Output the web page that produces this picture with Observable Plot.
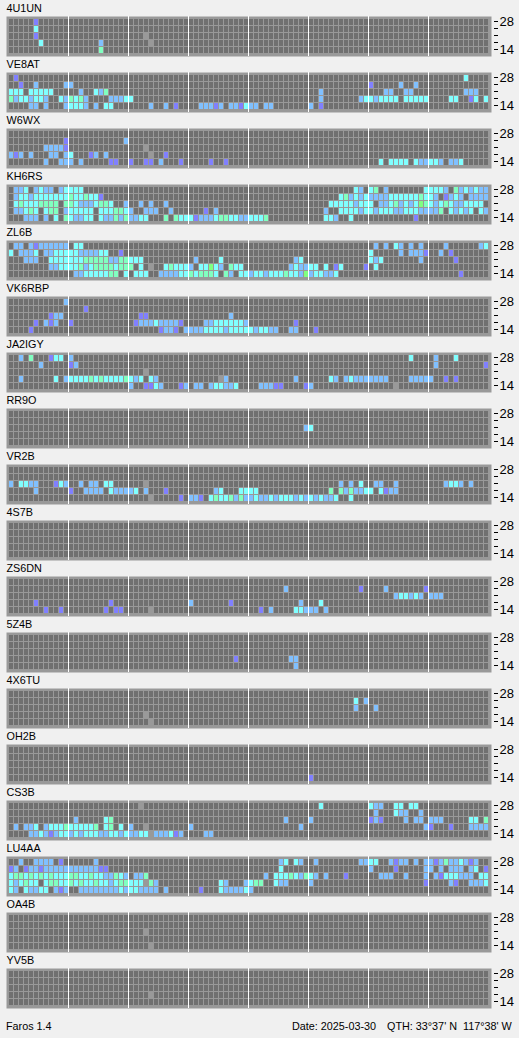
<!DOCTYPE html>
<html>
<head>
<meta charset="utf-8">
<script src="https://cdn.jsdelivr.net/npm/d3@7"></script>
<script src="https://cdn.jsdelivr.net/npm/@observablehq/plot@0.6"></script>
<style>
html,body{margin:0;padding:0;background:#f0f0f0;overflow:hidden}
svg{display:block}
#foot{position:relative;height:26px;font:10.8px "Liberation Sans",sans-serif;color:#000}
#foot span{position:absolute;top:7px;white-space:pre;line-height:14px}
</style>
</head>
<body>
<div id="chart"></div>
<div id="foot">
<span style="left:6px">Faros 1.4</span>
<span style="left:292px">Date: 2025-03-30</span>
<span style="left:387px">QTH: 33°37' N</span>
<span style="left:463px">117°38' W</span>
</div>
<script>
// Beacons, top to bottom
const stations = ["4U1UN","VE8AT","W6WX","KH6RS","ZL6B","VK6RBP","JA2IGY","RR9O","VR2B","4S7B","ZS6DN","5Z4B","4X6TU","OH2B","CS3B","LU4AA","OA4B","YV5B"];
// Bands, top row to bottom row
const bands = ["28","24","21","18","14"];
const bandLabels = ["28","14"];
// 96 quarter-hour slots; white divider after every 12th slot
const slots = d3.range(96);
const dividers = [11,23,35,47,59,71,83];
// Level: 0 noise (grey), 1 weak ... 5 strong
const levelColors = ["#999999","#8080ff","#80c0ff","#80ffff","#80ffc0","#80ff80"];
// Each row (band): "startSlot:levels" runs, one digit per slot
const s4U1UN = ["5:1","5:3","5:1 27:0","6:3 18:2 28:0","18:4"];
const sVE8AT = ["1:1 91:3","2:1 5:2 11:22 72:1 78:2 81:2","0:333 4:33333 14:2 17:324 62:2 75:22 79:22 91:222","0:42332332 10:324342 20:222 23:33 62:2 70:233 73:2 74:3333 79:33333 88:33 92:13 95:3","4:22 7:2 11:23332 17:2 19:33 28:2 31:2 33:1 38:22212 44:22 46:13 48:22 51:22 60:2 62:1"];
const sW6WX = ["","11:1 23:2","7:2222 11:1 27:0","0:212 4:2 8:22 11:23 16:12 19:2 28:0 31:1","7:2 10:222 14:2 20:11 24:1 27:11 30:2 34:1 40:1 43:1 74:3 76:3333 81:3 82:22 84:33 86:2 88:22 90:3"];
const sKH6RS = ["1:223 5:2322 10:23333 69:32 72:34 75:2 83:33332 89:4232322",
"1:233233333334334331 66:3423232222 76:333333 82:4 83:332 87:1 88:232 92:2222",
"1:343334444 11:443 14:222 17:3 18:44 20:3 23:2 26:2 28:2 31:2 64:333332333 74:223423235432343223333",
"1:22343 7:344 11:233333 18:3334432 27:222 32:2 39:1 41:2 63:2 66:333323323332233322224 88:32323 94:32",
"3:222 7:2 9:3 11:4 12:32233 18:3224242233 31:4 33:433 36:312223443322333 51:4 63:332 68:3 81:1"];
const sZL6B = ["1:22 4:21222222 13:33 73:2 75:2 77:32 80:2 82:2 87:2 94:23",
"0:3 2:2223 7:2233333222233 22:1 72:3 78:2 80:222 83:1 86:2 88:1",
"3:222 8:3333333 15:44444 20:22 22:44 24:333 37:2 42:3 57:23 72:323 82:2 89:1",
"8:22 10:33334 15:2344443444 26:3 28:0 31:343332 38:33532 44:433 56:232233 63:3 65:1 66:3 71:1 73:3",
"13:22 15:33333 20:44 23:3 25:333 30:2222 34:33 36:4 37:3 38:444 41:3 43:42 46:33 48:23 50:3233343325233223 90:1"];
const sVK6RBP = ["11:2","15:1","8:122 26:11 44:2","5:1 7:212 12:1 25:1 26:222 29:3 30:2222 34:1 39:22 41:333333 47:2 57:1","4:1 30:1 31:22 33:1 35:2222 39:3333 43:2 44:33333 49:2 50:33 52:22 56:22 61:1"];
const sJA2IGY = ["2:2 4:4 8:133 12:2 80:3 85:2 89:3","6:2 12:12 85:2 95:1","27:0","2:2 9:3 11:2 12:3333 16:4 17:3 18:4 19:3333 23:4 24:3 25:2 26:3 28:32 42:0 43:2 57:2 64:32 67:23 69:2222222 80:22222 87:1 89:1","24:2 27:11 29:32 34:12 37:22 40:233223 50:222 53:11 59:12 77:0"];
const sRR9O = ["","","59:23","",""];
const sVR2B = ["","","0:2 2:33 4:22 9:132 14:2 16:22 19:33 27:0 66:2 68:2 70:3 73:22 77:2 87:2 88:33 90:2 92:2","5:2 12:1 15:2222 20:3 21:2222 25:3 27:2 31:1 41:23 46:3333 64:4 66:42 68:4 69:22 71:33 74:31 76:22","28:0 34:1 36:22 38:1 40:34 42:33 44:4 45:2 46:4 47:22 49:3 50:2 51:2 52:3 53:2 54:333 57:2 58:3 59:2 60:3 61:2 62:3 63:22 65:3 68:3"];
const s4S7B = ["","","","",""];
const sZS6DN = ["","55:2 70:1 75:2 83:1","77:233232 84:222","5:1 20:1 36:2 44:1 58:2 62:3","7:1 10:1 19:1 21:11 28:0 50:1 52:2 57:33 59:222 63:2"];
const s5Z4B = ["","","","45:1 56:22","57:2"];
const s4X6TU = ["","69:3 71:2","69:2 73:2","27:0","28:0"];
const sOH2B = ["","","","","60:1"];
const sCS3B = ["26:0 62:3 72:322 77:33 80:33","73:2 77:322 82:2","13:2 19:34 55:2 60:2 72:121 79:2 81:22 84:222 92:33 95:4","1:2 3:223 7:2333 11:4 12:33333 17:4 19:34 22:3 24:2 27:0 36:2 58:2 83:21 88:1 92:2222","4:223212332323332233232233 28:0 29:222 32:3 33:1 34:2 39:22"];
const sLU4AA = ["2:2 5:2222 10:1 17:2 54:23 57:32 61:2 70:22 72:33 76:21 78:22 81:2 83:22 85:1 86:2 87:4 88:22 90:3 91:2 92:1 93:2",
"0:12 3:122 6:1 7:22222 12:222222 18:11 54:3 72:2 77:1 83:22 86:2 88:222 92:23 95:1",
"0:344343434333443343322432 25:22 27:4 51:2 53:333 56:4 57:3 58:2 59:4 60:3 61:2 63:2 67:1 74:222 79:2 83:2 85:21 87:333 90:222 94:33",
"0:323433 7:34433434334332344333 27:0 28:42 42:32 47:2 48:34 50:4 53:322 60:2 83:1 88:21 92:222 95:3",
"0:32 3:32233 9:212 14:2222222 21:232332222 31:2 38:1 42:3222232"];
const sOA4B = ["","","27:0","","28:0"];
const sYV5B = ["","","","28:0",""];

const rows = [s4U1UN,sVE8AT,sW6WX,sKH6RS,sZL6B,sVK6RBP,sJA2IGY,sRR9O,sVR2B,s4S7B,sZS6DN,s5Z4B,s4X6TU,sOH2B,sCS3B,sLU4AA,sOA4B,sYV5B];

const grid = stations.flatMap(st => bands.flatMap(b => slots.map(c => ({st, b, c}))));
const hits = [];
stations.forEach((st, i) => rows[i].forEach((line, r) => {
  line.split(" ").filter(Boolean).forEach(run => {
    const [start, digits] = run.split(":");
    [...digits].forEach((lv, k) => hits.push({st, b: bands[r], c: +start + k, lv: +lv}));
  });
}));

const font = '"Liberation Sans",sans-serif';
const chart = Plot.plot({
  width: 519, height: 1012,
  marginTop: 0, marginBottom: 4, marginLeft: 6, marginRight: 28,
  style: {background: "#f0f0f0", fontFamily: font, fontSize: "11px", color: "#000"},
  x: {type: "band", domain: slots, range: [9, 489], padding: 0, round: false, axis: null},
  y: {type: "band", domain: bands, range: [3, 38], padding: 0, round: false, axis: null},
  fy: {domain: stations, range: [16, 1008], paddingInner: 16/56, paddingOuter: 0, round: false, axis: null, label: null},
  color: {type: "ordinal", domain: [0,1,2,3,4,5], range: levelColors},
  marks: [
    Plot.frame({fill: "#999999", stroke: null}),
    Plot.cell(grid, {x: "c", y: "b", fy: "st", fill: "#707070", insetRight: 1, insetBottom: 1}),
    Plot.cell(hits, {x: "c", y: "b", fy: "st", fill: "lv", insetRight: 1, insetBottom: 1}),
    Plot.ruleX(dividers, {x: d => d, stroke: "#ffffff", strokeWidth: 1, dx: 1.5}),
    Plot.text(stations, {fy: d => d, text: d => d, frameAnchor: "top-left", lineAnchor: "middle", dy: -8, textAnchor: "start", fontSize: 10.8, fill: "#000"}),
    Plot.axisY(bands, {anchor: "right", tickSize: 4, tickPadding: 2, label: null, dx: 2, dy: -1.5,
      tickFormat: d => bandLabels.includes(d) ? d : "", stroke: "#000", fontSize: 13, fill: "#000"})
  ]
});
document.getElementById("chart").append(chart);
</script>
</body>
</html>
